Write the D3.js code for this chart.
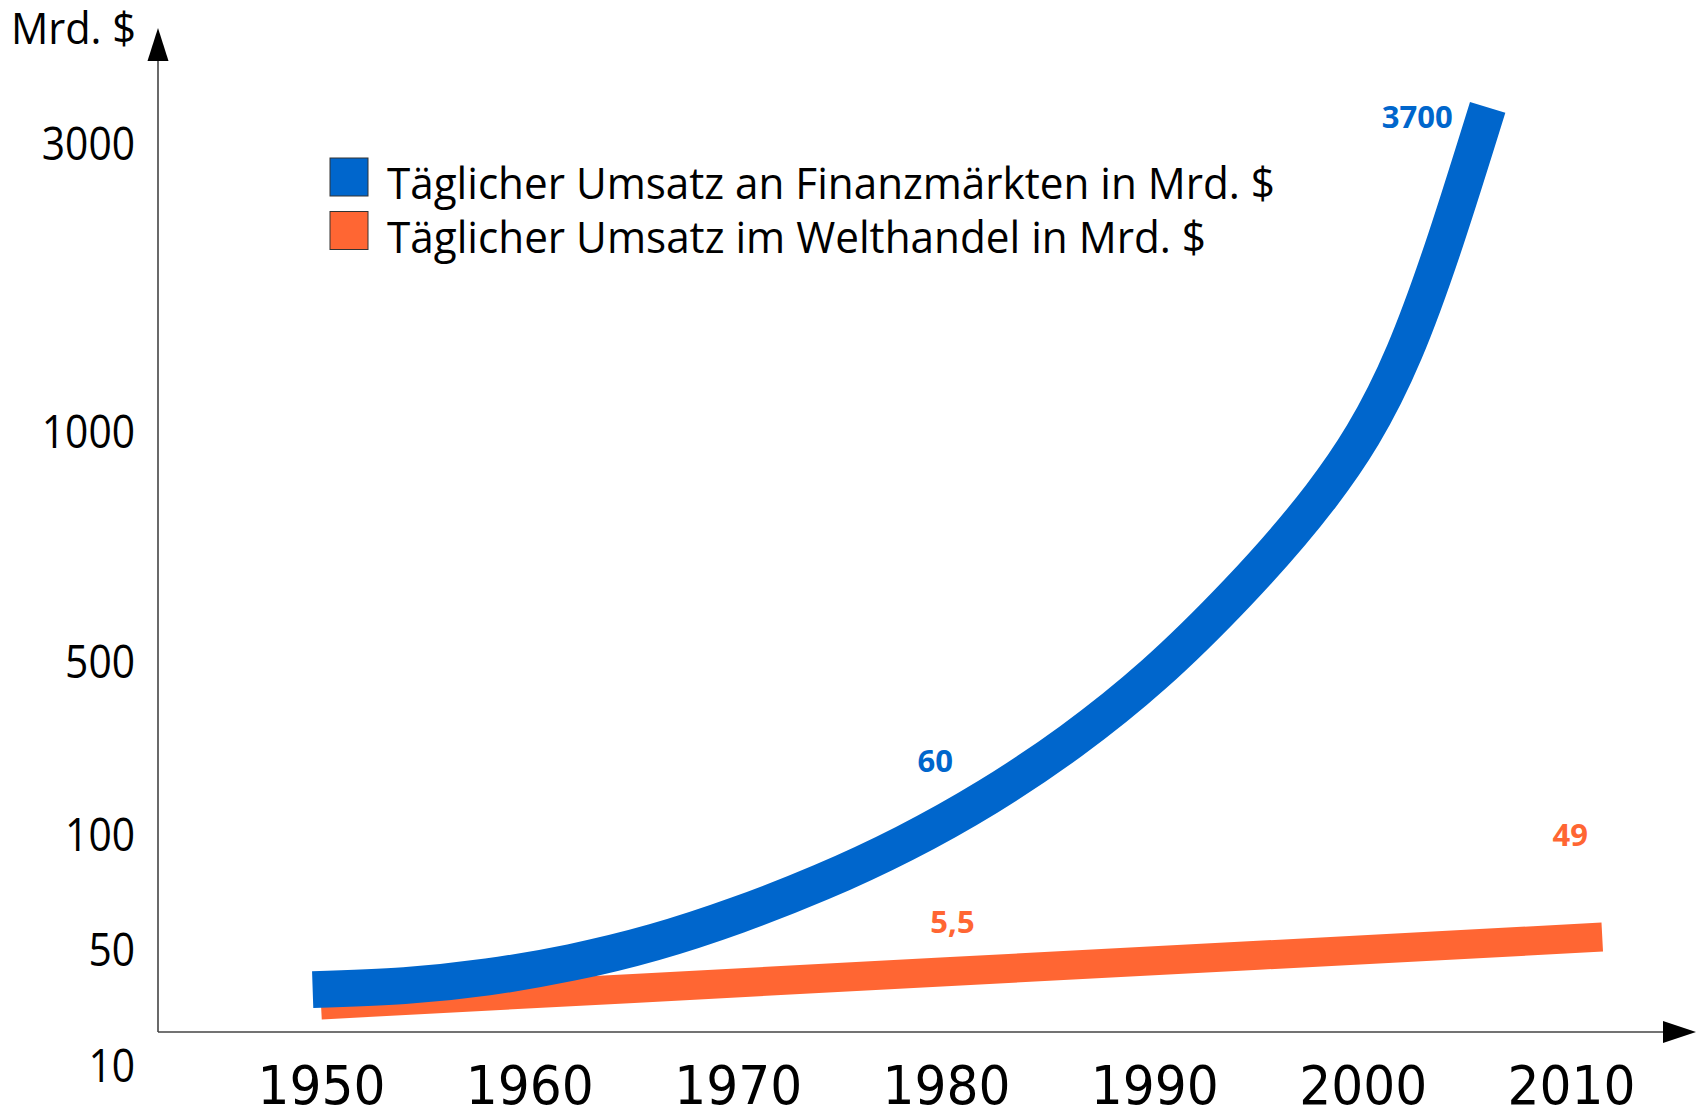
<!DOCTYPE html>
<html lang="de">
<head>
<meta charset="utf-8">
<script src="https://cdn.jsdelivr.net/npm/d3@7"></script>
<style>
  html, body { margin: 0; padding: 0; background: #fff; }
  svg { display: block; }
</style>
</head>
<body>
<div data-js-graph></div>
<script>
// data (y values read off the drawn axis, which is not a true scale)
const yTicks = [10, 50, 100, 500, 1000, 3000];
const xTicks = [1950, 1960, 1970, 1980, 1990, 2000, 2010];

const financeYears = [1949.6, 1954, 1958, 1962, 1966, 1970, 1974, 1978, 1982, 1986, 1990, 1994, 1998, 2002, 2006];
const financeValues = [36.1, 37.5, 40.5, 45.5, 53.2, 65, 79.2, 96.1, 187, 316, 471, 650, 860, 1550, 3247];

const tradeYears = [1950, 1965, 1980, 1995, 2011.5];
const tradeValues = [30.8, 36.5, 42.3, 48.0, 55.4];

const legendLabels = [
  'Täglicher Umsatz an Finanzmärkten in Mrd. $',
  'Täglicher Umsatz im Welthandel in Mrd. $',
];

// value labels: text, series, year the label hangs on
const annotTexts = ['3700', '60', '5,5', '49'];
const annotSeries = ['finance', 'finance', 'trade', 'trade'];
const annotYears = [2006, 1978, 1980, 2011.5];

const SETTING = {
  width: 1700,
  height: 1112,
  axisX: 158,
  axisY: 1032,
  blue: '#0066cc',
  orange: '#ff6633',
  text: '#000',
  font: '"Open Sans", "Noto Sans", sans-serif',
};

const graphWrapper = d3.select('[data-js-graph]');

const svg = graphWrapper.append('svg')
  .attr('width', SETTING.width)
  .attr('height', SETTING.height);

// scales: x linear by year, y piecewise through the hand placed tick labels
const x = d3.scaleLinear()
  .domain([1950, 2010])
  .range([321, 1571]);

const y = d3.scaleLinear()
  .domain(yTicks)
  .range([1065, 949.5, 834.5, 661.5, 431.5, 143]);

const line = d3.line()
  .x((d) => x(d[0]))
  .y((d) => y(d[1]));

const financeData = financeYears.map((yr, i) => [yr, financeValues[i]]);
const tradeData = tradeYears.map((yr, i) => [yr, tradeValues[i]]);

// trade first, finance drawn on top
svg.append('path')
  .datum(tradeData)
  .attr('fill', 'none')
  .attr('stroke', SETTING.orange)
  .attr('stroke-width', 29)
  .attr('stroke-linecap', 'butt')
  .attr('d', line.curve(d3.curveLinear));

svg.append('path')
  .datum(financeData)
  .attr('fill', 'none')
  .attr('stroke', SETTING.blue)
  .attr('stroke-width', 37)
  .attr('stroke-linecap', 'butt')
  .attr('d', line.curve(d3.curveNatural));

// axes lines with arrow heads
const axisG = svg.append('g').attr('stroke', '#444').attr('stroke-width', 1.6);
axisG.append('line')
  .attr('x1', SETTING.axisX).attr('x2', SETTING.axisX)
  .attr('y1', SETTING.axisY).attr('y2', 58);
axisG.append('line')
  .attr('x1', SETTING.axisX).attr('x2', 1666)
  .attr('y1', SETTING.axisY).attr('y2', SETTING.axisY);

svg.append('path')
  .attr('fill', '#000')
  .attr('d', `M${SETTING.axisX},28 L${SETTING.axisX + 10.5},61 L${SETTING.axisX - 10.5},61 Z`);
svg.append('path')
  .attr('fill', '#000')
  .attr('d', `M1696,${SETTING.axisY} L1663,${SETTING.axisY - 11} L1663,${SETTING.axisY + 11} Z`);

// y tick labels
const yAxis = svg.append('g')
  .attr('transform', `translate(${SETTING.axisX},0)`)
  .call(d3.axisLeft(y).tickValues(yTicks).tickSize(0).tickPadding(23).tickFormat(d3.format('d')));
yAxis.select('.domain').remove();
yAxis.selectAll('text')
  .attr('font-family', SETTING.font)
  .attr('font-size', 45)
  .attr('fill', SETTING.text)
  .attr('dy', '0.36em')
  .attr('textLength', (d) => String(d).length * 23.3)
  .attr('lengthAdjust', 'spacingAndGlyphs');

// x tick labels
const xAxis = svg.append('g')
  .attr('transform', `translate(0,${SETTING.axisY})`)
  .call(d3.axisBottom(x).tickValues(xTicks).tickSize(0).tickFormat(d3.format('d')));
xAxis.select('.domain').remove();
xAxis.selectAll('text')
  .attr('font-family', '"DejaVu Sans Condensed", "DejaVu Sans", sans-serif')
  .attr('font-stretch', 'condensed')
  .attr('font-size', 54)
  .attr('fill', SETTING.text)
  .attr('y', 72)
  .attr('dy', 0)
  .attr('textLength', 128)
  .attr('lengthAdjust', 'spacingAndGlyphs');

// y axis unit
svg.append('text')
  .attr('x', 11)
  .attr('y', 44)
  .attr('font-family', SETTING.font)
  .attr('font-size', 43)
  .attr('fill', SETTING.text)
  .attr('textLength', 125)
  .attr('lengthAdjust', 'spacingAndGlyphs')
  .text('Mrd. $');

// legend
const legendColors = [SETTING.blue, SETTING.orange];
const legendWidths = [888, 819];
const legend = svg.append('g').attr('transform', 'translate(330,158)');
legendLabels.forEach((label, i) => {
  const row = legend.append('g').attr('transform', `translate(0,${i * 53.5})`);
  row.append('rect')
    .attr('width', 38)
    .attr('height', 38)
    .attr('fill', legendColors[i])
    .attr('stroke', '#333')
    .attr('stroke-width', 1);
  row.append('text')
    .attr('x', 57)
    .attr('y', 41)
    .attr('font-family', SETTING.font)
    .attr('font-size', 43)
    .attr('fill', SETTING.text)
    .attr('textLength', legendWidths[i])
    .attr('lengthAdjust', 'spacingAndGlyphs')
    .text(label);
});

// value labels, hung off the series they belong to
const annotDx = [-35, 31, 6.5, -32];
const annotDy = [21, -71, -39, -91];
const annotAnchor = ['end', 'middle', 'middle', 'middle'];
const seriesLookup = {
  finance: { years: financeYears, values: financeValues, color: SETTING.blue },
  trade: { years: tradeYears, values: tradeValues, color: SETTING.orange },
};

annotTexts.forEach((txt, i) => {
  const s = seriesLookup[annotSeries[i]];
  const idx = s.years.indexOf(annotYears[i]);
  svg.append('text')
    .attr('x', x(annotYears[i]) + annotDx[i])
    .attr('y', y(s.values[idx]) + annotDy[i])
    .attr('text-anchor', annotAnchor[i])
    .attr('font-family', SETTING.font)
    .attr('font-weight', 700)
    .attr('font-size', 31)
    .attr('fill', s.color)
    .text(txt);
});
</script>
</body>
</html>
